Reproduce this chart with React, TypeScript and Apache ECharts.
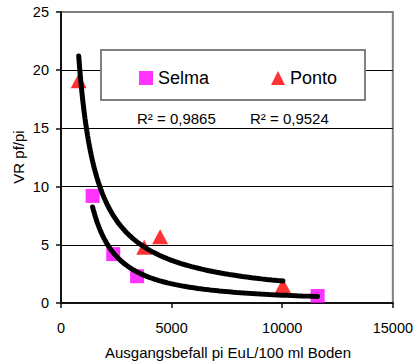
import { useEffect, useRef } from "react";
import * as echarts from "echarts";

// Ausgangsbefall (pi) and Vermehrungsrate (pf/pi) per cultivar
const selmaX = [1430, 2360, 3440, 11600];
const selmaY = [9.2, 4.2, 2.3, 0.6];
const pontoX = [800, 3760, 4480, 10030];
const pontoY = [19.1, 4.8, 5.7, 1.5];

const xTicks = [0, 5000, 10000, 15000];
const yTicks = [0, 5, 10, 15, 20, 25];
const rSquared = ["0,9865", "0,9524"];

const FONT = "Liberation Sans, Arial, sans-serif";

// Power regression y = a * x^b (least squares in log-log space)
function powerFit(xs: number[], ys: number[]) {
  const lx = xs.map(Math.log);
  const ly = ys.map(Math.log);
  const n = xs.length;
  const mx = lx.reduce((s, v) => s + v, 0) / n;
  const my = ly.reduce((s, v) => s + v, 0) / n;
  let sxy = 0;
  let sxx = 0;
  for (let i = 0; i < n; i++) {
    sxy += (lx[i] - mx) * (ly[i] - my);
    sxx += (lx[i] - mx) * (lx[i] - mx);
  }
  const b = sxy / sxx;
  const a = Math.exp(my - b * mx);
  return { a, b };
}

function trendLine(xs: number[], ys: number[], steps = 100) {
  const { a, b } = powerFit(xs, ys);
  const lo = Math.min(...xs);
  const hi = Math.max(...xs);
  const pts: number[][] = [];
  for (let i = 0; i <= steps; i++) {
    const x = lo * Math.pow(hi / lo, i / steps);
    pts.push([x, a * Math.pow(x, b)]);
  }
  return pts;
}

const zip = (xs: number[], ys: number[]) => xs.map((x, i) => [x, ys[i]]);

export default function App() {
  const ref = useRef<HTMLDivElement>(null);

  useEffect(() => {
    document.body.style.margin = "0";
    if (!ref.current) return;
    const chart = echarts.init(ref.current, null, { renderer: "svg" });

    const trendStyle = {
      type: "line" as const,
      showSymbol: false,
      symbol: "none",
      silent: true,
      z: 4,
      lineStyle: { color: "#000", width: 5, cap: "round" as const },
    };

    chart.setOption({
      animation: false,
      backgroundColor: "#fff",
      grid: {
        left: 61,
        right: 21,
        top: 12,
        bottom: 61,
        show: true,
        borderColor: "#808080",
        borderWidth: 2,
        backgroundColor: "transparent",
      },
      xAxis: {
        type: "value",
        min: xTicks[0],
        max: xTicks[xTicks.length - 1],
        interval: xTicks[1] - xTicks[0],
        axisLine: { show: true, lineStyle: { color: "#111", width: 2 } },
        axisTick: { show: true, length: 5, lineStyle: { color: "#111", width: 1.5 } },
        splitLine: { show: false },
        axisLabel: {
          color: "#000",
          fontSize: 14.5,
          fontFamily: FONT,
          margin: 17,
          formatter: (v: number) => String(v),
        },
      },
      yAxis: {
        type: "value",
        min: yTicks[0],
        max: yTicks[yTicks.length - 1],
        interval: yTicks[1] - yTicks[0],
        axisLine: { show: true, lineStyle: { color: "#111", width: 2 } },
        axisTick: { show: true, length: 5, lineStyle: { color: "#111", width: 1.5 } },
        splitLine: {
          show: true,
          showMinLine: false,
          showMaxLine: false,
          lineStyle: { color: "#000", width: 1 },
        },
        axisLabel: { color: "#000", fontSize: 14.5, fontFamily: FONT, margin: 12 },
      },
      legend: {
        data: [
          { name: "Selma", icon: "rect" },
          { name: "Ponto", icon: "triangle" },
        ],
        left: 134,
        top: 64,
        itemWidth: 14,
        itemHeight: 14,
        itemGap: 62,
        z: 10,
        textStyle: { color: "#000", fontSize: 18, fontFamily: FONT },
      },
      graphic: [
        {
          type: "rect",
          z: 5,
          shape: { x: 101, y: 50, width: 264, height: 50 },
          style: { fill: "#fff", stroke: "#808080", lineWidth: 2 },
        },
        {
          type: "text",
          x: 137,
          y: 118,
          style: {
            text: `R² = ${rSquared[0]}`,
            fill: "#000",
            font: `15px ${FONT}`,
            verticalAlign: "middle",
          },
        },
        {
          type: "text",
          x: 250,
          y: 118,
          style: {
            text: `R² = ${rSquared[1]}`,
            fill: "#000",
            font: `15px ${FONT}`,
            verticalAlign: "middle",
          },
        },
        {
          type: "text",
          x: 228,
          y: 352,
          style: {
            text: "Ausgangsbefall pi EuL/100 ml Boden",
            fill: "#000",
            font: `15px ${FONT}`,
            align: "center",
            verticalAlign: "middle",
          },
        },
        {
          type: "text",
          x: 18,
          y: 157,
          rotation: Math.PI / 2,
          style: {
            text: "VR pf/pi",
            fill: "#000",
            font: `15px ${FONT}`,
            align: "center",
            verticalAlign: "middle",
          },
        },
      ],
      series: [
        {
          name: "Selma",
          type: "scatter",
          symbol: "rect",
          symbolSize: 14,
          itemStyle: { color: "#FF00FF" },
          z: 2,
          data: zip(selmaX, selmaY),
        },
        {
          name: "Ponto",
          type: "scatter",
          symbol: "triangle",
          symbolSize: [16, 15],
          itemStyle: { color: "#FF0000" },
          z: 2,
          data: zip(pontoX, pontoY),
        },
        { ...trendStyle, name: "Trend Selma", data: trendLine(selmaX, selmaY) },
        { ...trendStyle, name: "Trend Ponto", data: trendLine(pontoX, pontoY) },
      ],
    });

    return () => chart.dispose();
  }, []);

  return (
    <div
      ref={ref}
      style={{ position: "absolute", left: 0, top: 0, width: 416, height: 364 }}
    />
  );
}
